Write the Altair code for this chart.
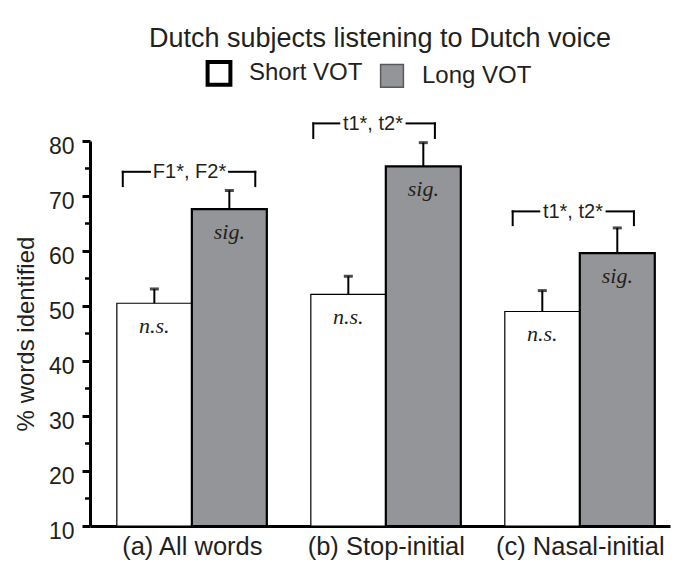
import altair as alt
import pandas as pd

# ---- data ----
categories = ["(a) All words", "(b) Stop-initial", "(c) Nasal-initial"]
series = ["Short VOT", "Long VOT"]
short_vals = [50.5, 52.1, 49.0]
long_vals = [67.6, 75.4, 59.6]
short_err = [2.6, 3.3, 3.8]
long_err = [3.4, 4.3, 4.6]
bar_notes = ["n.s.", "sig."]

bracket_labels = ["F1*, F2*", "t1*, t2*", "t1*, t2*"]
bracket_top = [74.4, 83.2, 67.2]
bracket_bottom = [71.8, 80.55, 64.7]
# bracket extents relative to the group centre (in group-step units)
bracket_left = [-0.356, -0.374, -0.346]
bracket_gap_left = [-0.216, -0.240, -0.209]
bracket_gap_right = [0.192, 0.107, 0.138]
bracket_right = [0.327, 0.253, 0.279]

y_ticks = [10, 20, 30, 40, 50, 60, 70, 80]
y_minor = [15, 25, 35, 45, 55, 65, 75]

title_text = "Dutch subjects listening to Dutch voice"
y_title = "% words identified"

# ---- build tables ----
BAR_W = 0.3866
rows = []
for i, cat in enumerate(categories):
    for s, vals, errs, note in [(series[0], short_vals, short_err, bar_notes[0]),
                                (series[1], long_vals, long_err, bar_notes[1])]:
        if s == series[0]:
            x0, x1 = i - BAR_W, i
        else:
            x0, x1 = i, i + BAR_W
        rows.append(dict(cat=cat, series=s, x0=x0, x1=x1, mid=(x0 + x1) / 2,
                         value=vals[i], top=vals[i] + errs[i], note=note))
df = pd.DataFrame(rows)

brows = []
for i in range(len(categories)):
    brows.append(dict(L=i + bracket_left[i], Lin=i + bracket_gap_left[i],
                      Rin=i + bracket_gap_right[i], R=i + bracket_right[i],
                      tx=i + (bracket_gap_left[i] + bracket_gap_right[i]) / 2,
                      top=bracket_top[i], bottom=bracket_bottom[i],
                      label=bracket_labels[i]))
bdf = pd.DataFrame(brows)
mdf = pd.DataFrame({"v": y_minor})

FONT = "Liberation Sans"
INK = "#231f20"

xscale = alt.Scale(domain=[-0.525, 2.465], nice=False, zero=False)
yscale = alt.Scale(domain=[y_ticks[0], y_ticks[-1]], nice=False, zero=False)

label_expr = "[" + ",".join("'" + c + "'" for c in categories) + "][datum.value]"

xaxis = alt.Axis(values=[0, 1, 2], labelExpr=label_expr, ticks=False, grid=False,
                 title=None, domainColor="black", domainWidth=3,
                 labelFontSize=25.5, labelFont=FONT, labelColor=INK,
                 labelPadding=8, labelBaseline="top")
yaxis = alt.Axis(values=y_ticks, grid=False, title=y_title, tickSize=8, tickWidth=3,
                 tickColor="black", domainColor="black", domainWidth=3,
                 labelFontSize=23, labelFont=FONT, labelColor=INK, labelPadding=8,
                 labelOffset=5, titleFontSize=24, titleFont=FONT, titleColor=INK,
                 titleFontWeight="normal", titlePadding=10)


def X(field):
    return alt.X(field, scale=xscale, axis=xaxis)


def Y(field):
    return alt.Y(field, scale=yscale, axis=yaxis)


bars = alt.Chart(df).mark_bar(stroke="black").encode(
    x=X("x0:Q"),
    x2="x1:Q",
    y=Y("value:Q"),
    y2=alt.datum(y_ticks[0]),
    fill=alt.Fill("series:N", scale=alt.Scale(domain=series, range=["white", "#939598"]),
                  legend=alt.Legend(orient="none", legendX=117, legendY=-80,
                                    direction="horizontal", title=None,
                                    symbolType="square", symbolSize=520,
                                    labelFontSize=24, labelFont=FONT, labelColor=INK,
                                    labelOffset=18, columnPadding=14,
                                    symbolStrokeWidth={"expr": "datum.value === 'Short VOT' ? 4 : 1.5"},
                                    symbolStrokeColor={"expr": "datum.value === 'Short VOT' ? 'black' : '#58595b'"})),
    strokeWidth=alt.condition(alt.datum.series == series[0], alt.value(1.2), alt.value(2.2)),
)

stems = alt.Chart(df).mark_rule(color="black", strokeWidth=2).encode(
    x=X("mid:Q"), y=Y("value:Q"), y2="top:Q",
)
caps = alt.Chart(df).mark_tick(color="black", orient="horizontal", size=9, thickness=3).encode(
    x=X("mid:Q"), y=Y("top:Q"),
)
notes = alt.Chart(df).mark_text(font="Liberation Serif", fontStyle="italic", fontSize=22,
                                dy=29.5, baseline="alphabetic", color=INK).encode(
    x=X("mid:Q"), y=Y("value:Q"), text="note:N",
)

rule_kw = dict(color="black", strokeWidth=2, strokeCap="square")
b_left = alt.Chart(bdf).mark_rule(**rule_kw).encode(
    x=X("L:Q"), y=Y("top:Q"), y2="bottom:Q")
b_right = alt.Chart(bdf).mark_rule(**rule_kw).encode(
    x=X("R:Q"), y=Y("top:Q"), y2="bottom:Q")
b_hl = alt.Chart(bdf).mark_rule(**rule_kw).encode(
    x=X("L:Q"), x2="Lin:Q", y=Y("top:Q"))
b_hr = alt.Chart(bdf).mark_rule(**rule_kw).encode(
    x=X("Rin:Q"), x2="R:Q", y=Y("top:Q"))
b_text = alt.Chart(bdf).mark_text(font=FONT, fontSize=20, dy=6.5, baseline="alphabetic",
                                  color=INK).encode(
    x=X("tx:Q"), y=Y("top:Q"), text="label:N")

minor = alt.Chart(mdf).mark_rule(color="black", strokeWidth=2.5).encode(
    y=Y("v:Q"), x=alt.value(-5), x2=alt.value(0))

chart = alt.layer(bars, stems, caps, notes, b_left, b_right, b_hl, b_hr, b_text, minor).properties(
    width=580, height=385,
    autosize=alt.AutoSizeParams(type="none"),
    padding={"left": 82, "top": 133, "right": 2, "bottom": 35},
    title=alt.Title(title_text, fontSize=27, font=FONT, fontWeight="normal", color=INK,
                    anchor="middle", frame="group", offset=8),
).configure_view(stroke=None)

chart.save("out.html", embed_options={"renderer": "svg", "actions": False})
